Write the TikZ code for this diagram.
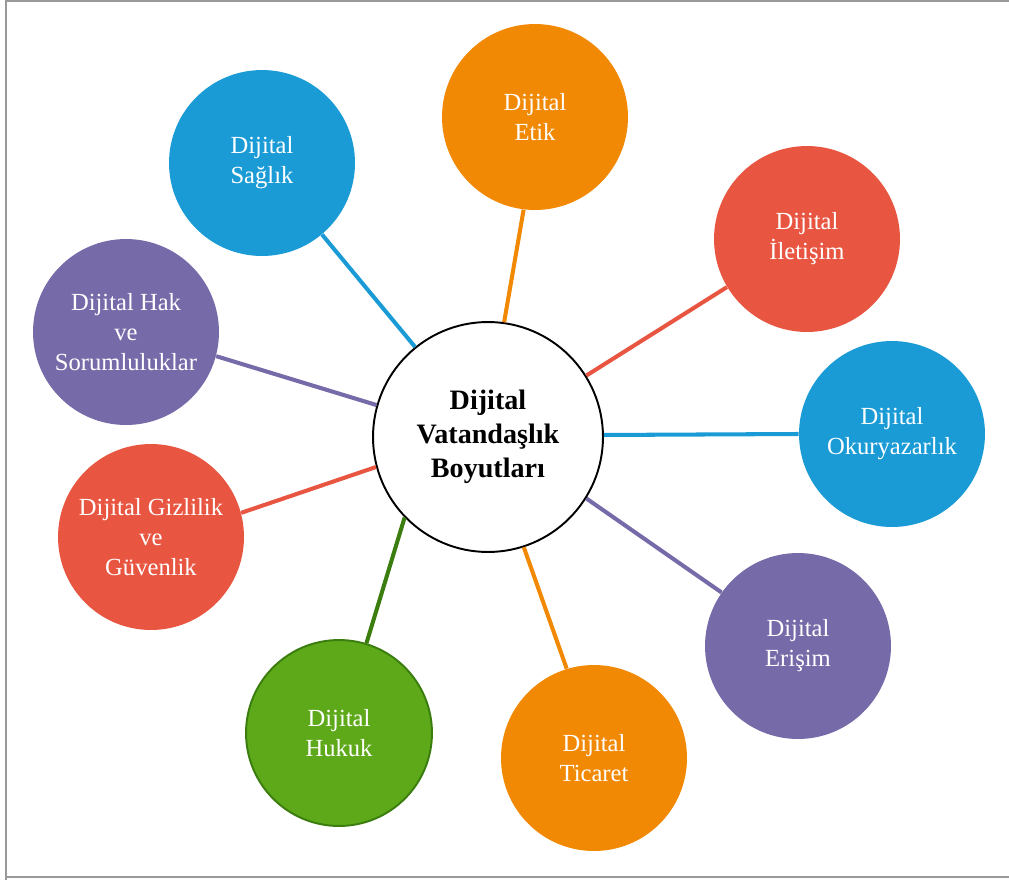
\documentclass[tikz,border=0pt]{standalone}
\usepackage{fontspec}
\setmainfont{Liberation Serif}
\usepackage{tikz}
\usetikzlibrary{positioning}
\definecolor{mavi}{HTML}{1A9BD6}
\definecolor{turuncu}{HTML}{F18904}
\definecolor{kirmizi}{HTML}{E85642}
\definecolor{mor}{HTML}{766AA8}
\definecolor{yesil}{HTML}{5EA91A}
\definecolor{koyuyesil}{HTML}{3B7D0E}
\tikzstyle{merkez} = [circle, draw=black, line width=1.1pt, fill=white, minimum size=4.6cm, inner sep=0pt, align=center, font=\fontsize{16}{19.5}\selectfont\bfseries]
\tikzstyle{boyut} = [circle, minimum size=3.72cm, inner sep=0pt, text=white, align=center, font=\fontsize{14}{17}\selectfont]
\tikzstyle{cizgi} = [line width=2.3pt]
\tikzstyle{cerceve} = [draw=black!40, line width=1.1pt]

\begin{document}
\begin{tikzpicture}[x=0.02cm, y=-0.02cm]
	\useasboundingbox (0,0) rectangle (1009,880);
	\draw[cerceve] (6,880) -- (6,1) -- (1009,1);
	\draw[cerceve] (6,877) -- (1009,877);
	% merkez
	\node[merkez] (dv) at (488,437) {Dijital\\Vatandaşlık\\Boyutları};
	% boyutlar
	\node[boyut, fill=turuncu] (etik) at (535,117) {Dijital\\Etik};
	\node[boyut, fill=mavi] (saglik) at (262,163) {Dijital\\Sağlık};
	\node[boyut, fill=kirmizi] (iletisim) at (807,239) {Dijital\\İletişim};
	\node[boyut, fill=mavi] (okur) at (892,434) {Dijital\\Okuryazarlık};
	\node[boyut, fill=mor] (erisim) at (798,646) {Dijital\\Erişim};
	\node[boyut, fill=turuncu] (ticaret) at (594,758) {Dijital\\Ticaret};
	\node[boyut, fill=yesil, draw=koyuyesil, line width=1.1pt] (hukuk) at (339,733) {Dijital\\Hukuk};
	\node[boyut, fill=kirmizi] (gizlilik) at (151,537) {Dijital Gizlilik\\ve\\Güvenlik};
	\node[boyut, fill=mor] (hak) at (126,332) {Dijital Hak\\ve\\Sorumluluklar};
	% baglantilar
	\draw[cizgi, turuncu] (dv.82) -- (etik.263);
	\draw[cizgi, mavi] (dv.129) -- (saglik.310);
	\draw[cizgi, kirmizi] (dv.32) -- (iletisim.211);
	\draw[cizgi, mavi] (dv.1) -- (okur.180);
	\draw[cizgi, mor] (dv.-32) -- (erisim.145);
	\draw[cizgi, turuncu] (dv.-72) -- (ticaret.107);
	\draw[cizgi, koyuyesil] (dv.224) -- (hukuk.73);
	\draw[cizgi, kirmizi] (dv.195) -- (gizlilik.15);
	\draw[cizgi, mor] (dv.164) -- (hak.-15);
\end{tikzpicture}
\end{document}
